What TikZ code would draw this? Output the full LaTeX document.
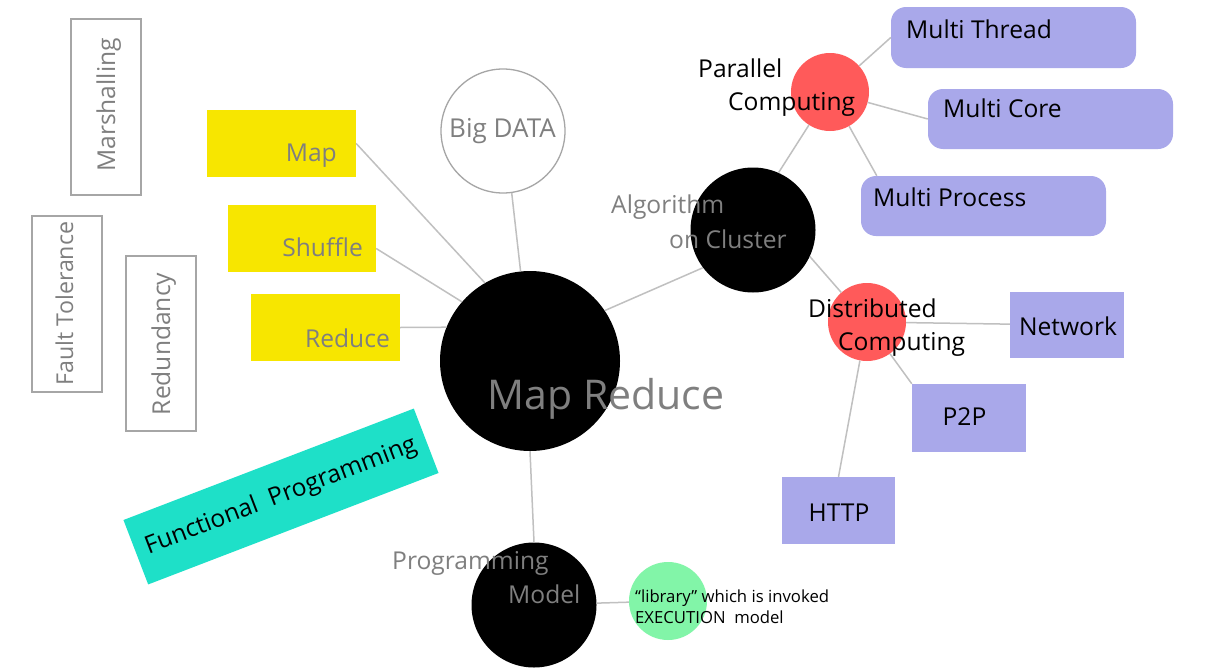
\documentclass[tikz,border=0pt]{standalone}
\usepackage{fontspec}
\setmainfont{Open Sans}
\definecolor{ylw}{HTML}{F7E600}
\definecolor{tealc}{HTML}{1EE0C8}
\definecolor{lav}{HTML}{A9A8EA}
\definecolor{redcol}{HTML}{FF5A5A}
\definecolor{grn}{HTML}{82F5A8}
\definecolor{txtgray}{HTML}{7F7F7F}
\definecolor{linegray}{HTML}{C0C0C0}
\definecolor{bordergray}{HTML}{A6A6A6}
\tikzset{
  graybox/.style={draw=bordergray, line width=1.5pt, inner sep=0pt, fill=white},
  yellowbox/.style={fill=ylw, inner sep=0pt},
  lavbox/.style={fill=lav, inner sep=0pt},
  lavround/.style={fill=lav, rounded corners=15pt, inner sep=0pt},
  blackc/.style={circle, fill=black, inner sep=0pt},
  redc/.style={circle, fill=redcol, inner sep=0pt},
  conn/.style={draw=linegray, line width=1.5pt},
  lbl/.style={font=\fontsize{24.6}{31}\selectfont, inner sep=0pt, text=black},
  glbl/.style={lbl, text=txtgray},
  biglbl/.style={font=\fontsize{41}{50}\selectfont, inner sep=0pt, text=txtgray},
  smalllbl/.style={font=\fontsize{16.7}{22}\selectfont, inner sep=0pt, text=black}
}
\begin{document}
\begin{tikzpicture}[x=1pt,y=-1pt]
\useasboundingbox[fill=white] (0,0) rectangle (1221,672);

% boxes
\node[graybox, minimum width=70, minimum height=176] (marsh) at (106,107) {};
\node[graybox, minimum width=70, minimum height=176] (fault) at (67,304) {};
\node[graybox, minimum width=70, minimum height=175] (redun) at (161,343.5) {};
\node[yellowbox, minimum width=149, minimum height=67] (map) at (281.5,143.5) {};
\node[yellowbox, minimum width=148, minimum height=67] (shuffle) at (302,238.5) {};
\node[yellowbox, minimum width=149, minimum height=67] (reduce) at (325.5,327.5) {};
\node[fill=tealc, inner sep=0pt, minimum width=311, minimum height=69, rotate=21, lbl] (fp) at (281,496.5) {Functional~~Programming};

% circles
\node[circle, draw=bordergray, line width=1.3pt, minimum size=124, inner sep=0pt] (bd) at (503,131) {};
\node[blackc, minimum size=180] (mr) at (530,361) {};
\node[blackc, minimum size=125] (alg) at (753,230) {};
\node[redc, minimum size=78] (pc) at (830,92) {};
\node[redc, minimum size=78] (dc) at (867,322) {};
\node[blackc, minimum size=125] (pm) at (534,605) {};
\node[circle, fill=grn, inner sep=0pt, minimum size=78] (green) at (668,601) {};

% lavender boxes
\node[lavround, minimum width=245, minimum height=61] (mt) at (1013.5,37.5) {};
\node[lavround, minimum width=245, minimum height=60] (mc) at (1050.5,119) {};
\node[lavround, minimum width=245, minimum height=60] (mp) at (983.5,206) {};
\node[lavbox, minimum width=114, minimum height=66] (net) at (1067,325) {};
\node[lavbox, minimum width=114, minimum height=68] (p2p) at (969,418) {};
\node[lavbox, minimum width=113, minimum height=67] (http) at (838.5,510.5) {};

% connectors
\draw[conn] (map.east) -- (mr.120);
\draw[conn] ([yshift=-10pt]shuffle.east) -- (mr.139);
\draw[conn] (reduce.east) -- (mr.158);
\draw[conn] (bd.-82) -- (mr.96);
\draw[conn] (mr.34) -- (alg.217);
\draw[conn] (mr.south) -- (pm.north);
\draw[conn] (pm) -- (green);
\draw[conn] (alg.66) -- (pc);
\draw[conn] (alg.-25) -- (dc);
\draw[conn] (pc) -- (mt.west);
\draw[conn] (pc) -- (mc.west);
\draw[conn] (pc) -- ([xshift=16pt]mp.north west);
\draw[conn] (dc) -- (net);
\draw[conn] (dc) -- (p2p.north west);
\draw[conn] (dc) -- (http.north);

% labels
\node[glbl, anchor=base east] (maplbl) at (337,161) {Map};
\node[glbl, anchor=base east] (shufflbl) at (363,256) {Shuffle};
\node[glbl, anchor=base east] (reducelbl) at (390,347) {Reduce};
\node[glbl, rotate=90, anchor=base] (marshlbl) at (115,105) {Marshalling};
\node[glbl, rotate=90, anchor=base, font=\fontsize{23.2}{29}\selectfont] (faultlbl) at (73,303.5) {Fault Tolerance};
\node[glbl, rotate=90, anchor=base] (redunlbl) at (170,344) {Redundancy};
\node[glbl, anchor=base, font=\fontsize{26}{31}\selectfont] (bdlbl) at (502.5,137) {Big DATA};
\node[biglbl, anchor=base] (mrlbl) at (606,409) {Map Reduce};
\node[glbl, anchor=base west] (alglbla) at (611,213) {Algorithm};
\node[glbl, anchor=base west] (alglblb) at (669,248) {on Cluster};
\node[lbl, anchor=base west] (pclbla) at (698,77) {Parallel};
\node[lbl, anchor=base west] (pclblb) at (728,110) {Computing};
\node[lbl, anchor=base west] (dclbla) at (808,317) {Distributed};
\node[lbl, anchor=base west] (dclblb) at (838,350) {Computing};
\node[glbl, anchor=base west] (pmlbla) at (392,569) {Programming};
\node[glbl, anchor=base west] (pmlblb) at (508,603) {Model};
\node[smalllbl, anchor=base west] (grnlbla) at (635,602) {“library” which is invoked};
\node[smalllbl, anchor=base west] (grnlblb) at (635,623) {EXECUTION\ \ model};
\node[lbl, anchor=base west] (mtlbl) at (906,38) {Multi Thread};
\node[lbl, anchor=base west] (mclbl) at (943,117) {Multi Core};
\node[lbl, anchor=base west] (mplbl) at (873,206) {Multi Process};
\node[lbl, anchor=base] (netlbl) at (1068,335) {Network};
\node[lbl, anchor=base] (p2plbl) at (964.5,425) {P2P};
\node[lbl, anchor=base] (httplbl) at (839,521) {HTTP};
\end{tikzpicture}
\end{document}
